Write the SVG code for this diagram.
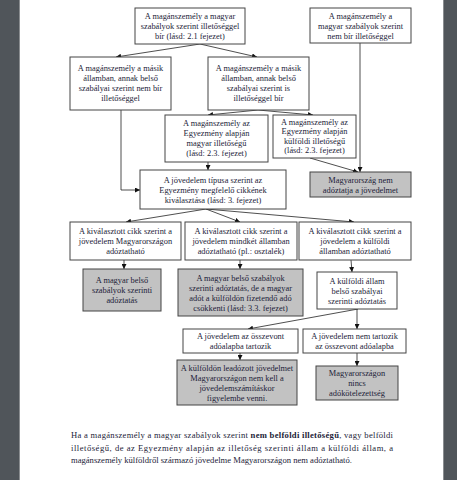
<svg xmlns="http://www.w3.org/2000/svg" width="457" height="480" viewBox="0 0 457 480">
<defs>
<marker id="ah" markerUnits="userSpaceOnUse" markerWidth="6" markerHeight="5" refX="5" refY="2.5" orient="auto">
<path d="M0,0 L5,2.5 L0,5 z" fill="#111"/>
</marker>
<style>
.b{fill:#fff;stroke:#444;stroke-width:1}
.g{fill:#c2c2c2;stroke:#444;stroke-width:1}
.t{font-family:"Liberation Serif",serif;font-size:8.4px;fill:#1c1c38;text-anchor:middle}
.p{font-family:"Liberation Serif",serif;font-size:8.6px;fill:#1c1c38}
.c{fill:none;stroke:#222;stroke-width:0.8;marker-end:url(#ah)}
</style>
</defs>
<rect x="0" y="0" width="457" height="480" fill="#50555a"/>
<rect x="19.5" y="-1" width="424" height="482" fill="#fff" stroke="#8a8d90" stroke-width="1"/>

<g id="connectors">
<path class="c" d="M200,44 L116,57"/>
<path class="c" d="M200,44 L257,57"/>
<path class="c" d="M121,110 L121,190 L140,190"/>
<path class="c" d="M258,110 L208,115"/>
<path class="c" d="M258,110 L313,115"/>
<path class="c" d="M208,162 L208,170"/>
<path class="c" d="M310,158 L358,172"/>
<path class="c" d="M360,43 L360,172"/>
<path class="c" d="M206,209 L126,222"/>
<path class="c" d="M206,209 L240,222"/>
<path class="c" d="M206,209 L354,222"/>
<path class="c" d="M124,260 L124,269"/>
<path class="c" d="M240,260 L240,269"/>
<path class="c" d="M351,260 L352,272"/>
<path class="c" d="M358,309 L248,329"/>
<path class="c" d="M357,309 L357,329"/>
<path class="c" d="M240,353 L240,360"/>
<path class="c" d="M357,353 L357,366"/>
</g>

<g id="nA"><rect class="b" x="135" y="8" width="110" height="36"/>
<text class="t"><tspan x="190" y="19">A magánszemély a magyar</tspan><tspan x="190" y="29">szabályok szerint illetőséggel</tspan><tspan x="190" y="39">bír (lásd: 2.1 fejezet)</tspan></text></g>

<g id="nB"><rect class="b" x="310" y="8" width="101" height="35"/>
<text class="t"><tspan x="360.5" y="18.5">A magánszemély a</tspan><tspan x="360.5" y="28.5">magyar szabályok szerint</tspan><tspan x="360.5" y="38.5">nem bír illetőséggel</tspan></text></g>

<g id="nC"><rect class="b" x="70" y="57" width="101" height="53"/>
<text class="t"><tspan x="120.5" y="70.5">A magánszemély a másik</tspan><tspan x="120.5" y="80.5">államban, annak belső</tspan><tspan x="120.5" y="90.5">szabályai szerint nem bír</tspan><tspan x="120.5" y="100.5">illetőséggel</tspan></text></g>

<g id="nD"><rect class="b" x="208" y="57" width="101" height="53"/>
<text class="t"><tspan x="258.5" y="70.5">A magánszemély a másik</tspan><tspan x="258.5" y="80.5">államban, annak belső</tspan><tspan x="258.5" y="90.5">szabályai szerint is</tspan><tspan x="258.5" y="100.5">illetőséggel bír</tspan></text></g>

<g id="nE"><rect class="b" x="165" y="115" width="103" height="47"/>
<text class="t"><tspan x="216.5" y="126">A magánszemély az</tspan><tspan x="216.5" y="136">Egyezmény alapján</tspan><tspan x="216.5" y="146">magyar illetőségű</tspan><tspan x="216.5" y="156">(lásd: 2.3. fejezet)</tspan></text></g>

<g id="nF"><rect class="b" x="273" y="115" width="83" height="43"/>
<text class="t"><tspan x="314.5" y="124.5">A magánszemély az</tspan><tspan x="314.5" y="134">Egyezmény alapján</tspan><tspan x="314.5" y="143.5">külföldi illetőségű</tspan><tspan x="314.5" y="153">(lásd: 2.3. fejezet)</tspan></text></g>

<g id="nG"><rect class="g" x="310" y="172" width="101" height="25"/>
<text class="t"><tspan x="360.5" y="182.5">Magyarország nem</tspan><tspan x="360.5" y="192.5">adóztatja a jövedelmet</tspan></text></g>

<g id="nH"><rect class="b" x="140" y="170" width="146" height="39"/>
<text class="t"><tspan x="213" y="182.5">A jövedelem típusa szerint az</tspan><tspan x="213" y="192.5">Egyezmény megfelelő cikkének</tspan><tspan x="213" y="202.5">kiválasztása (lásd: 3. fejezet)</tspan></text></g>

<g id="nI"><rect class="b" x="70" y="222" width="111" height="38"/>
<text class="t"><tspan x="125.5" y="234">A kiválasztott cikk szerint a</tspan><tspan x="125.5" y="244">jövedelem Magyarországon</tspan><tspan x="125.5" y="254">adóztatható</tspan></text></g>

<g id="nJ"><rect class="b" x="185" y="222" width="112" height="38"/>
<text class="t"><tspan x="241" y="234">A kiválasztott cikk szerint a</tspan><tspan x="241" y="244">jövedelem mindkét államban</tspan><tspan x="241" y="254">adóztatható (pl.: osztalék)</tspan></text></g>

<g id="nK"><rect class="b" x="299" y="222" width="112" height="38"/>
<text class="t"><tspan x="355" y="234">A kiválasztott cikk szerint a</tspan><tspan x="355" y="244">jövedelem a külföldi</tspan><tspan x="355" y="254">államban adóztatható</tspan></text></g>

<g id="nL"><rect class="g" x="83" y="269" width="78" height="42"/>
<text class="t"><tspan x="122" y="283">A magyar belső</tspan><tspan x="122" y="293">szabályok szerinti</tspan><tspan x="122" y="303">adóztatás</tspan></text></g>

<g id="nM"><rect class="g" x="178" y="269" width="125" height="47"/>
<text class="t"><tspan x="240.5" y="280.5">A magyar belső szabályok</tspan><tspan x="240.5" y="290.5">szerinti adóztatás, de a magyar</tspan><tspan x="240.5" y="300.5">adót a külföldön fizetendő adó</tspan><tspan x="240.5" y="310.5">csökkenti (lásd: 3.3. fejezet)</tspan></text></g>

<g id="nN"><rect class="b" x="317" y="272" width="80" height="37"/>
<text class="t"><tspan x="357" y="283.5">A külföldi állam</tspan><tspan x="357" y="293.5">belső szabályai</tspan><tspan x="357" y="303.5">szerinti adóztatás</tspan></text></g>

<g id="nO"><rect class="b" x="183" y="329" width="115" height="24"/>
<text class="t"><tspan x="240.5" y="339">A jövedelem az összevont</tspan><tspan x="240.5" y="349">adóalapba tartozik</tspan></text></g>

<g id="nP"><rect class="b" x="303" y="329" width="103" height="24"/>
<text class="t"><tspan x="354.5" y="339">A jövedelem nem tartozik</tspan><tspan x="354.5" y="349">az összevont adóalapba</tspan></text></g>

<g id="nQ"><rect class="g" x="177" y="360" width="120" height="45"/>
<text class="t"><tspan x="237" y="371">A külföldön leadózott jövedelmet</tspan><tspan x="237" y="381">Magyarországon nem kell a</tspan><tspan x="237" y="391">jövedelemszámításkor</tspan><tspan x="237" y="401">figyelembe venni.</tspan></text></g>

<g id="nR"><rect class="g" x="316" y="366" width="82" height="34"/>
<text class="t"><tspan x="357" y="376">Magyarországon</tspan><tspan x="357" y="386">nincs</tspan><tspan x="357" y="396">adókötelezettség</tspan></text></g>

<g id="para">
<text class="p" x="71" y="438" textLength="322" lengthAdjust="spacing">Ha a magánszemély a magyar szabályok szerint <tspan font-weight="bold">nem belföldi illetőségű</tspan>, vagy belföldi</text>
<text class="p" x="71" y="451" textLength="322" lengthAdjust="spacing">illetőségű, de az Egyezmény alapján az illetőség szerinti állam a külföldi állam, a</text>
<text class="p" x="71" y="463">magánszemély külföldről származó jövedelme Magyarországon nem adóztatható.</text>
</g>
</svg>
